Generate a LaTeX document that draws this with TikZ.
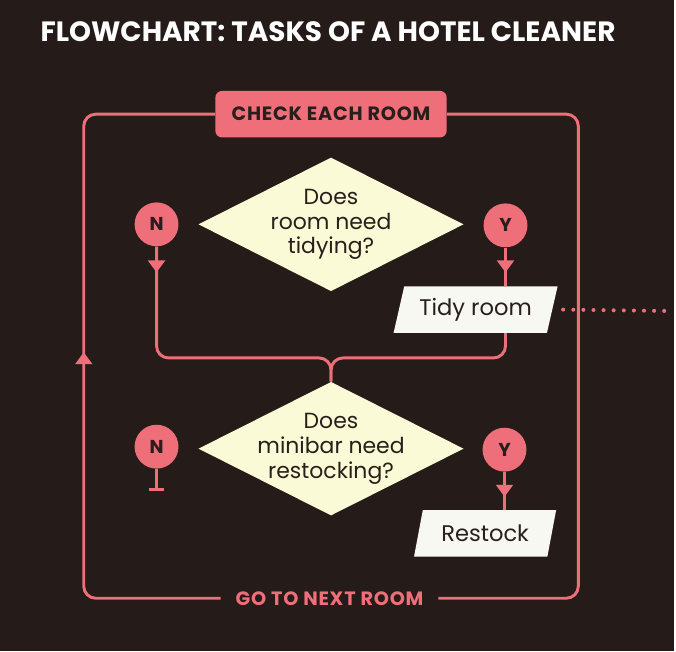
\documentclass[tikz,border=0pt]{standalone}
\usepackage{fontspec}
\setmainfont{Poppins}
\usetikzlibrary{shapes.geometric, arrows.meta, decorations.markings}
\definecolor{bgbrown}{RGB}{37,28,26}
\definecolor{flowpink}{RGB}{238,111,121}
\definecolor{cream}{RGB}{250,250,214}
\definecolor{paper}{RGB}{248,248,242}
\definecolor{inkbrown}{RGB}{40,30,28}
\tikzset{flow/.style = {draw=flowpink, line width=2.2pt}}
\tikzset{arrowat/.style = {decoration={markings, mark=at position #1 with {\arrow{Triangle[width=12.5pt, length=9pt]}}}, postaction={decorate}}}
\tikzset{arrowbackat/.style = {decoration={markings, mark=at position #1 with {\arrowreversed{Triangle[width=12.5pt, length=9pt]}}}, postaction={decorate}}}
\tikzset{question/.style = {diamond, aspect=2, fill=cream, text=inkbrown, inner sep=-6pt, minimum width=199.5pt, minimum height=100.5pt, align=center, font=\fontsize{16.5}{18.75}\selectfont}}
\tikzset{answer/.style = {circle, fill=flowpink, text=inkbrown, minimum size=33pt, inner sep=0pt, font=\bfseries\fontsize{14}{14}\selectfont}}
\tikzset{task/.style = {trapezium, trapezium left angle=70, trapezium right angle=110, trapezium stretches=true, fill=paper, text=inkbrown, inner sep=0pt, minimum height=35pt, font=\fontsize{17}{18}\selectfont}}
\tikzset{caps/.style = {font=\bfseries\fontsize{14.5}{14.5}\selectfont\addfontfeatures{LetterSpace=4}}}

\begin{document}
\begin{tikzpicture}[x=0.75pt, y=-0.75pt]
      \fill[bgbrown] (0,0) rectangle (676,653);
      \node[text=white, font=\bfseries\fontsize{21}{21}\selectfont] (title) at (329,32) {FLOWCHART: TASKS OF A HOTEL CLEANER};
      \node[fill=flowpink, text=inkbrown, rounded corners=5pt, minimum width=174pt, minimum height=35pt, caps] (check) at (332,114.5) {CHECK EACH ROOM};
      \node[text=flowpink, inner xsep=11pt, caps] (next) at (330.5,600) {GO TO NEXT ROOM};
      \node[question] (q1) at (332,225) {Does\\room need\\tidying?};
      \node[question] (q2) at (332,450) {Does\\minibar need\\restocking?};
      \node[answer] (n1) at (157,225) {N};
      \node[answer] (y1) at (507,226) {Y};
      \node[answer] (n2) at (157,448) {N};
      \node[answer] (y2) at (506,451) {Y};
      \node[task, minimum width=124.5pt] (tidy) at (477,310.5) {Tidy room};
      \node[task, minimum width=107pt] (restock) at (486.5,535) {Restock};
      \coordinate (offpage) at (676,312);
      \draw[flow, rounded corners=9pt, arrowbackat=274pt] (check.west) -- (84,114.5) -- (84,600) -- (next.west);
      \draw[flow, rounded corners=9pt] (check.east) -- (580,114.5) -- (580,600) -- (next.east);
      \draw[flow, rounded corners=9pt, arrowat=19.5pt] (n1.south) -- (157,359) -- (332,359) -- (q2.north);
      \draw[flow, arrowat=18.75pt] (y1.south) -- (y1.south |- tidy.north);
      \draw[flow, rounded corners=9pt] (tidy.south -| y1.south) -- (507,359) -- (332,359) -- (q2.north);
      \draw[flow, -{Bar[width=11pt]}] (n2.south) -- ++(0,22);
      \draw[flow, arrowat=18.75pt] (y2.south) -- (y2.south |- restock.north);
      \draw[flowpink, line width=3pt, line cap=round, dash pattern=on 0pt off 7.6pt] ([xshift=8pt]tidy.east) -- (offpage);
    \end{tikzpicture}
\end{document}
